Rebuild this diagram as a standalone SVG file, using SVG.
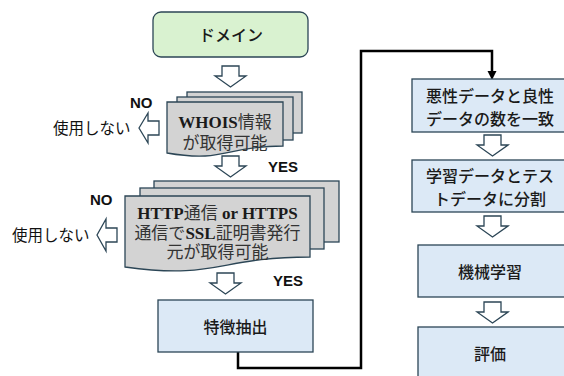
<svg xmlns="http://www.w3.org/2000/svg" xmlns:xlink="http://www.w3.org/1999/xlink" width="564" height="376" viewBox="0 0 564 376">
<style>
.bx{stroke:#2c4656;stroke-width:1.3}
.green{fill:#d9f2d0}
.blue{fill:#dce9f6}
.gray{fill:#d3d3d3}
.arr{fill:#fff;stroke:#2c4656;stroke-width:1.3;stroke-linejoin:miter}
.t{font-family:"Noto Sans CJK JP","Noto Sans",sans-serif;font-size:16px;font-weight:500;fill:#1a1a1a;text-anchor:middle;dominant-baseline:central}
.lab{font-family:"Noto Sans CJK JP","Noto Sans",sans-serif;font-size:15.5px;fill:#111;dominant-baseline:central}
.yn{font-family:"Liberation Sans","Noto Sans",sans-serif;font-size:15px;font-weight:bold;fill:#111;dominant-baseline:central}
.srf{font-family:"Liberation Serif","Noto Sans CJK JP",serif;font-size:17px;fill:#333;text-anchor:middle;dominant-baseline:central}
.b{font-weight:bold;fill:#1a1a1a}
.con{fill:none;stroke:#000;stroke-width:2.5}
</style>
<defs>
<path id="da" d="M7,0 H24 V10 H31 L15.5,21 L0,10 H7 Z"/>
</defs>

<g id="connectors">
<path class="con" d="M238,352 V368 H361 V51 H492 V72"/>
<path d="M487.5,71 H496.5 L492,80 Z" fill="#000"/>
<use href="#da" class="arr" x="215" y="66"/>
<use href="#da" class="arr" x="215" y="156"/>
<use href="#da" class="arr" x="210" y="273"/>
<use href="#da" class="arr" x="477" y="135"/>
<use href="#da" class="arr" x="477" y="216"/>
<use href="#da" class="arr" x="477" y="302"/>
<path class="arr" d="M139,128 L148,113 V121 H159 V135 H148 V143 Z"/>
<path class="arr" d="M97,235 L106,219 V228 H117 V242 H106 V251 Z"/>
</g>

<g id="domain">
<rect class="bx green" x="153" y="12" width="155" height="45" rx="8"/>
<text class="t" x="231" y="34">ドメイン</text>
</g>

<g id="whois">
<rect class="bx gray" x="187" y="92" width="115" height="41"/>
<rect class="bx gray" x="177" y="97" width="116" height="43"/>
<path class="bx gray" d="M167,102 H283 V146 C225,146 225,163 167,153 Z"/>
<text class="srf" x="225" y="122"><tspan class="b">WHOIS</tspan>情報</text>
<text class="srf" x="225" y="143">が取得可能</text>
</g>

<g id="whois-no">
<text class="yn" x="130" y="102">NO</text>
<text class="lab" x="53" y="127">使用しない</text>
<text class="yn" x="268" y="166">YES</text>
</g>

<g id="http">
<rect class="bx gray" x="154" y="181" width="185" height="61"/>
<rect class="bx gray" x="140" y="188" width="184" height="61"/>
<path class="bx gray" d="M125,196 H310 V257 C217.5,257 217.5,280 125,267 Z"/>
<text class="srf" x="217.5" y="213"><tspan class="b">HTTP</tspan>通信 <tspan class="b">or HTTPS</tspan></text>
<text class="srf" x="217.5" y="233">通信で<tspan class="b">SSL</tspan>証明書発行</text>
<text class="srf" x="217.5" y="252">元が取得可能</text>
</g>

<g id="http-no">
<text class="yn" x="90" y="199">NO</text>
<text class="lab" x="12" y="234">使用しない</text>
<text class="yn" x="273" y="280">YES</text>
</g>

<g id="feature">
<rect class="bx blue" x="158" y="300" width="155" height="52"/>
<text class="t" x="235.5" y="326">特徴抽出</text>
</g>

<g id="balance">
<rect class="bx blue" x="412" y="79" width="156" height="53"/>
<text class="t" x="490" y="95">悪性データと良性</text>
<text class="t" x="490" y="118">データの数を一致</text>
</g>

<g id="split">
<rect class="bx blue" x="412" y="160" width="156" height="52"/>
<text class="t" x="490" y="175">学習データとテス</text>
<text class="t" x="490" y="198">トデータに分割</text>
</g>

<g id="ml">
<rect class="bx blue" x="418" y="245" width="150" height="52"/>
<text class="t" x="490" y="271">機械学習</text>
</g>

<g id="eval">
<rect class="bx blue" x="418" y="327" width="150" height="55"/>
<text class="t" x="490" y="353">評価</text>
</g>
</svg>
